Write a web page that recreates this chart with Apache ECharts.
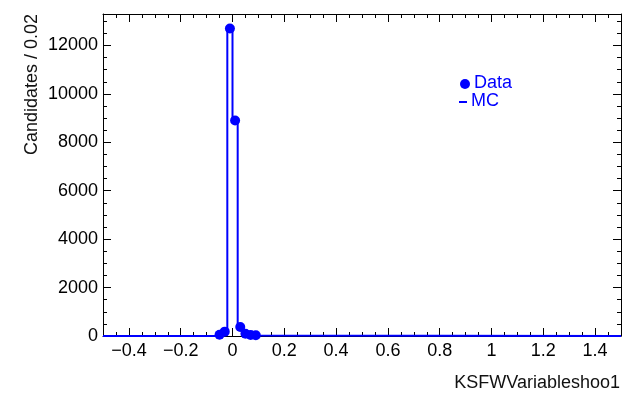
<!DOCTYPE html>
<html>
<head>
<meta charset="utf-8">
<script src="https://cdn.jsdelivr.net/npm/echarts@6/dist/echarts.min.js"></script>
<style>
html,body{margin:0;padding:0;background:#fff;}
#chart{width:626px;height:394px;}
</style>
</head>
<body>
<div id="chart"></div>
<script>
// ---- data ----
const dataX = [-0.05, -0.03, -0.01, 0.01, 0.03, 0.05, 0.07, 0.09];
const dataY = [50, 180, 12700, 8900, 370, 90, 40, 30];
const mcEdges = [-0.06, -0.04, -0.02, 0, 0.02, 0.04, 0.06, 0.08, 0.10];
const mcY = [40, 190, 12690, 8880, 360, 80, 35, 20];
const xRange = [-0.5, 1.5];
const yMax = 13300;
const xMajorTicks = [-0.4, -0.2, 0, 0.2, 0.4, 0.6, 0.8, 1, 1.2, 1.4];
const yMajorTicks = [0, 2000, 4000, 6000, 8000, 10000, 12000];
const xTitle = 'KSFWVariableshoo1';
const yTitle = 'Candidates / 0.02';
const legendNames = ['Data', 'MC'];

// minor tick positions
const xMinorTicks = [];
for (let k = -45; k <= 150; k += 5) {
  const v = k / 100;
  if (k % 20 !== 0) xMinorTicks.push(v);
}
const yMinorTicks = [];
for (let v = 500; v <= 13000; v += 500) {
  if (v % 2000 !== 0) yMinorTicks.push(v);
}

const blue = '#0000ff';
const font = 'Liberation Sans, Arial, Helvetica, sans-serif';

const scatterData = dataX.map((x, i) => [x, dataY[i]]);
const mcLine = [[xRange[0], 0]];
mcY.forEach((v, i) => mcLine.push([mcEdges[i], v]));
mcLine.push([mcEdges[mcEdges.length - 1], 0]);
mcLine.push([xRange[1], 0]);

const fmt = v => String(v).replace('-', '\u2212');

function xAx(position, ticks, len, showLine, showLabel) {
  return {
    type: 'value', min: xRange[0], max: xRange[1], position: position,
    axisLine: {show: showLine, onZero: false, lineStyle: {color: '#000', width: 1}},
    axisTick: {show: true, inside: true, length: len, customValues: ticks, lineStyle: {color: '#000', width: 1}},
    axisLabel: showLabel ? {show: true, customValues: ticks, formatter: fmt, fontSize: 18, fontFamily: font, color: '#000', margin: 6} : {show: false},
    splitLine: {show: false}
  };
}
function yAx(position, ticks, len, showLine, showLabel) {
  return {
    type: 'value', min: 0, max: yMax, position: position,
    axisLine: {show: showLine, onZero: false, lineStyle: {color: '#000', width: 1}},
    axisTick: {show: true, inside: true, length: len, customValues: ticks, lineStyle: {color: '#000', width: 1}},
    axisLabel: showLabel ? {show: true, customValues: ticks, formatter: v => String(v), fontSize: 18, fontFamily: font, color: '#000', margin: 5} : {show: false},
    splitLine: {show: false}
  };
}

const chart = echarts.init(document.getElementById('chart'), null, {renderer: 'canvas'});
chart.setOption({
  animation: false,
  backgroundColor: '#fff',
  grid: {left: 103, right: 5, top: 14, bottom: 58, containLabel: false},
  xAxis: [
    xAx('bottom', xMajorTicks, 8, true, true),
    xAx('bottom', xMinorTicks, 4, false, false),
    xAx('top', xMajorTicks, 8, true, false),
    xAx('top', xMinorTicks, 4, false, false)
  ],
  yAxis: [
    yAx('left', yMajorTicks, 8, true, true),
    yAx('left', yMinorTicks, 4, false, false),
    yAx('right', yMajorTicks, 8, true, false),
    yAx('right', yMinorTicks, 4, false, false)
  ],
  series: [
    {
      name: legendNames[1], type: 'line', xAxisIndex: 0, yAxisIndex: 0,
      data: mcLine, step: 'end', showSymbol: false, symbol: 'none',
      lineStyle: {color: blue, width: 2}, z: 2
    },
    {
      name: legendNames[0], type: 'scatter', xAxisIndex: 0, yAxisIndex: 0,
      data: scatterData, symbol: 'circle', symbolSize: 10,
      itemStyle: {color: blue, opacity: 1}, z: 3
    }
  ],
  graphic: [
    {type: 'text', x: 620, y: 383, style: {text: xTitle, font: '18px ' + font, fill: '#111', align: 'right', verticalAlign: 'middle'}},
    {type: 'text', x: 32, y: 14, rotation: Math.PI / 2, style: {text: yTitle, font: '18px ' + font, fill: '#111', align: 'right', verticalAlign: 'middle'}},
    {type: 'circle', shape: {cx: 465, cy: 84, r: 5}, style: {fill: blue}},
    {type: 'text', x: 474, y: 83, style: {text: legendNames[0], font: '18px ' + font, fill: blue, align: 'left', verticalAlign: 'middle'}},
    {type: 'line', shape: {x1: 459, y1: 102, x2: 467, y2: 102}, style: {stroke: blue, lineWidth: 2}},
    {type: 'text', x: 471, y: 101, style: {text: legendNames[1], font: '18px ' + font, fill: blue, align: 'left', verticalAlign: 'middle'}}
  ]
});
</script>
</body>
</html>
